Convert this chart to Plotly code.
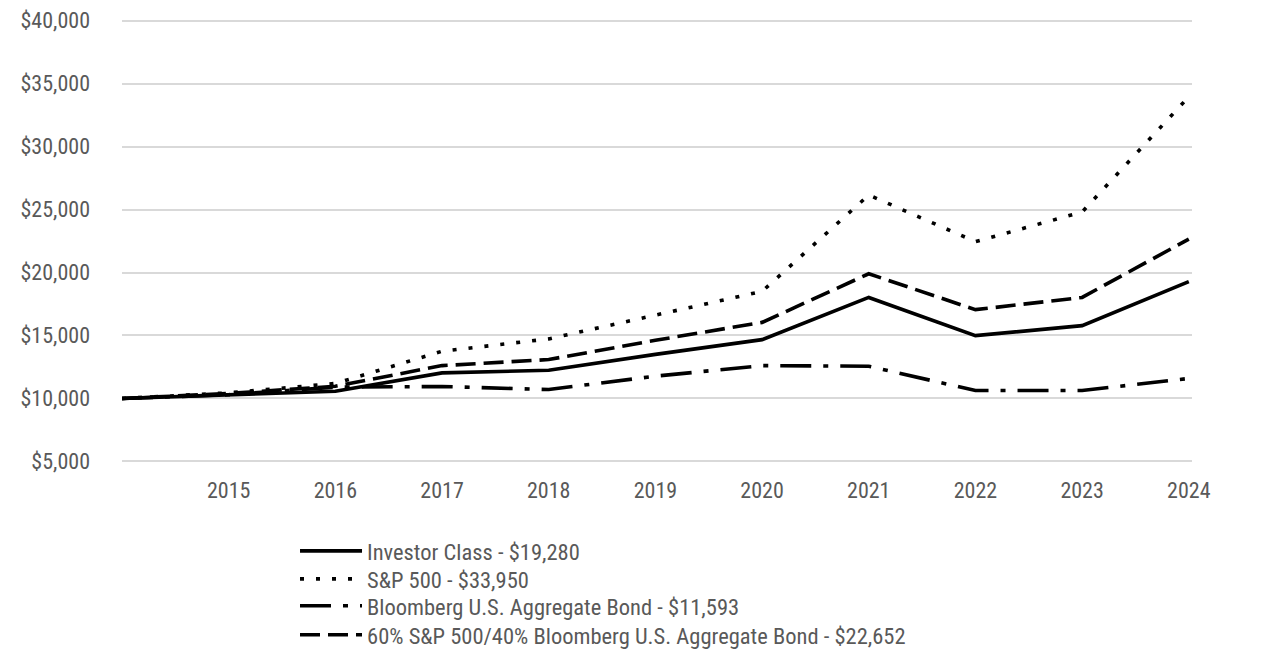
import plotly.graph_objects as go

years = [2014, 2015, 2016, 2017, 2018, 2019, 2020, 2021, 2022, 2023, 2024]
investor = [10000, 10300, 10580, 12030, 12240, 13500, 14670, 18020, 14990, 15780, 19280]
sp500 = [10000, 10450, 11190, 13750, 14730, 16650, 18500, 26150, 22450, 24800, 33950]
bond = [10000, 10300, 10900, 10950, 10710, 11770, 12610, 12560, 10630, 10630, 11593]
blend = [10000, 10400, 10970, 12610, 13090, 14620, 16040, 19900, 17050, 18020, 22652]

y_ticks = [5000, 10000, 15000, 20000, 25000, 30000, 35000, 40000]
y_tick_labels = ["$5,000", "$10,000", "$15,000", "$20,000", "$25,000", "$30,000", "$35,000", "$40,000"]

names = [
    "Investor Class - $19,280",
    "S&P 500 - $33,950",
    "Bloomberg U.S. Aggregate Bond - $11,593",
    "60% S&P 500/40% Bloomberg U.S. Aggregate Bond - $22,652",
]
series = [investor, sp500, bond, blend]
dashes = ["solid", "4px,12px", "31px,12px,5px,12px", "20px,8px"]
legend_ids = ["legend", "legend2", "legend3", "legend4"]
legend_y = [-0.1957, -0.2584, -0.3188, -0.3837]

FONT = "Roboto Condensed, Arial Narrow, sans-serif"
GREY = "#595959"

fig = go.Figure()
for name, vals, dash, lid in zip(names, series, dashes, legend_ids):
    fig.add_trace(go.Scatter(
        x=years, y=vals, name=name, mode="lines", legend=lid,
        line=dict(color="black", width=3.6, dash=dash),
    ))

legend_common = dict(
    x=0.1617, xanchor="left", yanchor="middle",
    orientation="v", font=dict(family=FONT, size=22.5, color=GREY),
    itemwidth=62, bgcolor="rgba(0,0,0,0)",
)

fig.update_layout(
    width=1270, height=664,
    margin=dict(l=114, r=86, t=9.5, b=207.5),
    paper_bgcolor="white", plot_bgcolor="white",
    font=dict(family=FONT, size=22, color=GREY),
    showlegend=True,
    xaxis=dict(
        range=[2014, 2024.03], tickvals=years[1:], ticktext=[str(y) for y in years[1:]],
        showgrid=False, zeroline=False, showline=False, ticks="",
        ticklabelstandoff=11, automargin=False, tickangle=0,
    ),
    yaxis=dict(
        range=[4800, 40200], tickvals=y_ticks, ticktext=y_tick_labels,
        showgrid=True, gridcolor="#d9d9d9", gridwidth=2, zeroline=False,
        showline=False, ticks="", ticklabelstandoff=31, automargin=False,
        ticklabeloverflow="allow",
    ),
)
for lid, ly in zip(legend_ids, legend_y):
    fig.update_layout({lid: dict(legend_common, y=ly)})

fig.write_html("out.html")
